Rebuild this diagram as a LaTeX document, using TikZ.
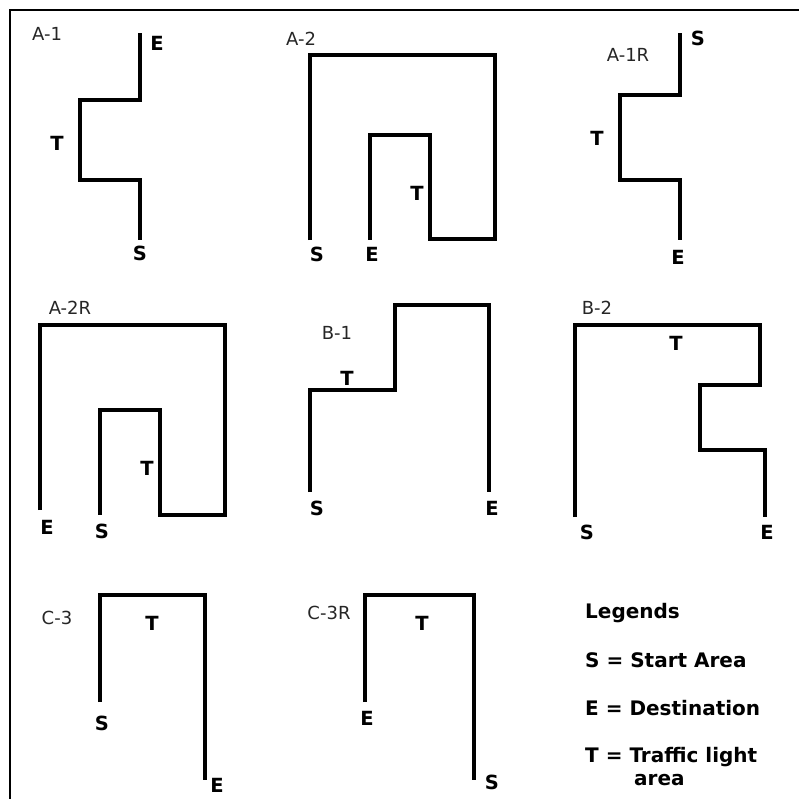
\documentclass[tikz,border=0pt]{standalone}
\usepackage{fontspec}
\setmainfont{DejaVu Sans}
\begin{document}
\begin{tikzpicture}[x=1pt,y=-1pt,
  route/.style={line width=3.6pt,line join=miter,line cap=butt},
  frame/.style={line width=2.6pt},
  pt/.style={font=\bfseries\fontsize{19.5}{22}\selectfont,inner sep=0pt},
  ttl/.style={font=\fontsize{18}{21}\selectfont,inner sep=0pt,text=black!85},
  leg/.style={font=\bfseries\fontsize{20}{23}\selectfont,inner sep=0pt,anchor=west}]
\useasboundingbox (0,0) rectangle (799,798);
\draw[frame] (10,799) -- (10,10) -- (800,10);
% A-1
\node[ttl] (ta1) at (47,34) {A-1};
\draw[route] (140,33) -- (140,100) -- (80,100) -- (80,180) -- (140,180) -- (140,240);
\node[pt] (a1e) at (157,43) {E};
\node[pt] (a1t) at (57,143) {T};
\node[pt] (a1s) at (140,253) {S};
% A-2
\node[ttl] (ta2) at (301,39) {A-2};
\draw[route] (310,240) -- (310,55) -- (495,55) -- (495,239) -- (430,239) -- (430,135) -- (370,135) -- (370,240);
\node[pt] (a2s) at (317,254) {S};
\node[pt] (a2e) at (372,254) {E};
\node[pt] (a2t) at (417,193) {T};
% A-1R
\node[ttl] (ta1r) at (628,55) {A-1R};
\draw[route] (680,33) -- (680,95) -- (620,95) -- (620,180) -- (680,180) -- (680,240);
\node[pt] (a1rs) at (698,38) {S};
\node[pt] (a1rt) at (597,138) {T};
\node[pt] (a1re) at (678,257) {E};
% A-2R
\node[ttl] (ta2r) at (70,308) {A-2R};
\draw[route] (40,510) -- (40,325) -- (225,325) -- (225,515) -- (160,515) -- (160,410) -- (100,410) -- (100,515);
\node[pt] (a2re) at (47,527) {E};
\node[pt] (a2rs) at (102,531) {S};
\node[pt] (a2rt) at (147,468) {T};
% B-1
\node[ttl] (tb1) at (337,333) {B-1};
\draw[route] (310,492) -- (310,390) -- (395,390) -- (395,305) -- (489,305) -- (489,492);
\node[pt] (b1t) at (347,378) {T};
\node[pt] (b1s) at (317,508) {S};
\node[pt] (b1e) at (492,508) {E};
% B-2
\node[ttl] (tb2) at (597,308) {B-2};
\draw[route] (575,517) -- (575,325) -- (760,325) -- (760,385) -- (700,385) -- (700,450) -- (765,450) -- (765,517);
\node[pt] (b2t) at (676,343) {T};
\node[pt] (b2s) at (587,532) {S};
\node[pt] (b2e) at (767,532) {E};
% C-3
\node[ttl] (tc3) at (57,618) {C-3};
\draw[route] (100,702) -- (100,595) -- (205,595) -- (205,780);
\node[pt] (c3t) at (152,623) {T};
\node[pt] (c3s) at (102,723) {S};
\node[pt] (c3e) at (217,785) {E};
% C-3R
\node[ttl] (tc3r) at (329,613) {C-3R};
\draw[route] (365,702) -- (365,595) -- (474,595) -- (474,780);
\node[pt] (c3rt) at (422,623) {T};
\node[pt] (c3re) at (367,718) {E};
\node[pt] (c3rs) at (492,782) {S};
% Legend
\node[leg] (l0) at (585,613) {Legends};
\node[leg] (l1) at (585,660) {S = Start Area};
\node[leg] (l2) at (585,708) {E = Destination};
\node[leg] (l3) at (585,757) {T = Traffic light};
\node[leg] (l4) at (634,780) {area};
\end{tikzpicture}
\end{document}
